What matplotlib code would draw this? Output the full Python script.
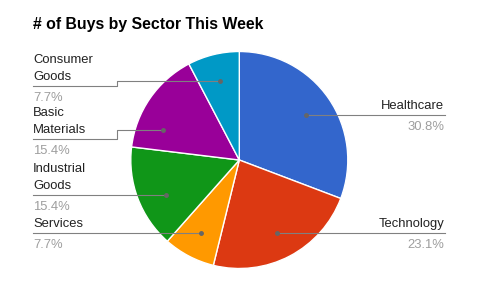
import math
import matplotlib
matplotlib.use("Agg")
import matplotlib.pyplot as plt

title = "# of Buys by Sector This Week"
sectors = ["Healthcare", "Technology", "Services", "Industrial\nGoods", "Basic\nMaterials", "Consumer\nGoods"]
buys = [4, 3, 1, 2, 2, 1]
colors = ["#3366cc", "#dc3912", "#ff9900", "#109618", "#990099", "#0099c6"]

# label layout in pixels (from top-left): side, text x, leader y, step x, dot fraction in slice
layout = [
    ("right", 444, 115, None, 0.5),
    ("right", 444, 233, None, 0.5),
    ("left", 33, 233, None, 0.5),
    ("left", 33, 195, None, 0.41),
    ("left", 33, 139, 117, 0.26),
    ("left", 33, 86, 117, 0.5),
]

W, H = 481, 307
fig = plt.figure(figsize=(W / 100, H / 100), dpi=100)
ax = fig.add_axes([0, 0, 1, 1])

cx, cy, r = 239.3, H - 160, 108.5
wedges, _ = ax.pie(buys, colors=colors, startangle=90, counterclock=False,
                   center=(cx, cy), radius=r,
                   wedgeprops=dict(edgecolor="white", linewidth=1))

ax.set_xlim(0, W)
ax.set_ylim(0, H)
ax.set_aspect("equal")
ax.axis("off")

font = "Liberation Sans"
ax.text(33, H - 28.5, title, fontsize=11.4, fontweight="bold", family=font,
        color="#000000", va="baseline", ha="left")

total = sum(buys)
for w, name, val, (side, tx, ly, sx, frac) in zip(wedges, sectors, buys, layout):
    ang = math.radians(w.theta2 - frac * (w.theta2 - w.theta1))
    dx = cx + 0.75 * r * math.cos(ang)
    dy = cy + 0.75 * r * math.sin(ang)
    y = H - ly
    lc = "#808080"
    if side == "right":
        ax.plot([dx, tx + 1], [y, y], color=lc, lw=0.8)
        ha = "right"
    else:
        if sx is None:
            ax.plot([tx, dx], [y, y], color=lc, lw=0.8)
        else:
            ax.plot([tx, sx, sx, dx], [y, y, dy, dy], color=lc, lw=0.8)
        ha = "left"
    ax.plot([dx], [dy if sx is not None else y], "o", color="#666666", ms=2.5)
    lines = name.split("\n")
    for i, ln in enumerate(reversed(lines)):
        ax.text(tx, y + 5.7 + 17 * i, ln, fontsize=9.4, family=font, color="#222222",
                ha=ha, va="baseline")
    ax.text(tx, y - 15, "%.1f%%" % (100.0 * val / total), fontsize=9.4, family=font,
            color="#9e9e9e", ha=ha, va="baseline")

fig.savefig("out.png", dpi=100)
